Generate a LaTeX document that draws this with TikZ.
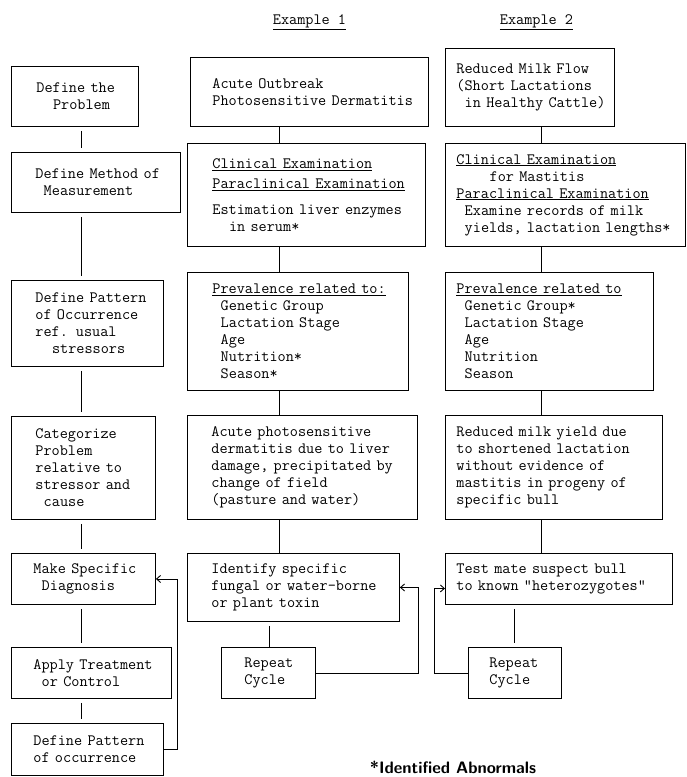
\documentclass[tikz,border=0pt]{standalone}
\usetikzlibrary{positioning,calc,arrows.meta}

\newcommand\boxfont{\ttfamily\fontsize{15.8}{17}\selectfont}
\newcommand\ind[1]{\hspace*{#1\dimexpr .525em\relax}}

\begin{document}
\begin{tikzpicture}[x=1pt,y=-1pt,
        stepbox/.style={draw, line width=0.9pt, anchor=north west, font=\boxfont,
            align=left, inner xsep=2pt, inner ysep=0pt},
        boxsize/.style n args={4}{minimum width=#1pt, text width=#2pt,
            minimum height=#3pt, execute at begin node={\leftskip=#4pt\relax}},
        link/.style={line width=0.9pt},
        gaplink/.style={link, shorten <=4pt, shorten >=4pt},
        backarrow/.style={link, -{Straight Barb[length=4pt,width=7pt]}}]

    \useasboundingbox (0,0) rectangle (686,777);

    % general procedure
    \node [stepbox, boxsize={127}{123}{60}{23}] (define) at (11,66) {Define the\\\ind{2}Problem};
    \node [stepbox, boxsize={169}{165}{60}{22}] (method) at (11,152) {Define Method of\\\ind{1}Measurement};
    \node [stepbox, boxsize={152}{148}{86}{22}] (pattern) at (11,280) {Define Pattern\\of Occurrence\\ref. usual\\\ind{2}stressors};
    \node [stepbox, boxsize={144}{140}{103}{22}] (categorize) at (11,416) {Categorize\\Problem\\relative to\\stressor and\\\ind{1}cause};
    \node [stepbox, boxsize={144}{140}{51}{20}] (diagnosis) at (11,553) {Make Specific\\\ind{1}Diagnosis};
    \node [stepbox, boxsize={160}{156}{51}{20}] (treatment) at (11,647) {Apply Treatment\\\ind{1}or Control};
    \node [stepbox, boxsize={152}{148}{52}{20}] (recheck) at (11,723) {Define Pattern\\of occurrence};

    % example 1
    \node [font=\boxfont] (ex1) at (309.5,22) {\underline{Example 1}};
    \node [stepbox, boxsize={238}{234}{69}{20}] (outbreak) at (190,57) {Acute Outbreak\\Photosensitive Dermatitis};
    \node [stepbox, boxsize={238}{234}{103}{23}] (exam1) at (187,143) {\underline{Clinical Examination}\\[3pt]\underline{Paraclinical Examination}\\[9pt]Estimation liver enzymes\\\ind{2}in serum*};
    \node [stepbox, boxsize={221}{217}{118}{23}] (prev1) at (187,272) {\underline{Prevalence related to:}\\\ind{1}Genetic Group\\\ind{1}Lactation Stage\\\ind{1}Age\\\ind{1}Nutrition*\\\ind{1}Season*};
    \node [stepbox, boxsize={230}{226}{104}{22}] (cause1) at (187,415) {Acute photosensitive\\dermatitis due to liver\\damage, precipitated by\\change of field\\(pasture and water)};
    \node [stepbox, boxsize={212}{208}{68}{22}] (toxin) at (187,553) {Identify specific\\fungal or water-borne\\or plant toxin};
    \node [stepbox, boxsize={94}{90}{51}{21}] (repeat1) at (221,647) {Repeat\\Cycle};

    % example 2
    \node [font=\boxfont] (ex2) at (536.5,22) {\underline{Example 2}};
    \node [stepbox, boxsize={169}{165}{78}{9}] (milkflow) at (445,48) {Reduced Milk Flow\\(Short Lactations\\\ind{1}in Healthy Cattle)};
    \node [stepbox, boxsize={240}{236}{103}{9}] (exam2) at (445,143) {\underline{Clinical Examination}\\\ind{4}for Mastitis\\\underline{Paraclinical Examination}\\\ind{1}Examine records of milk\\\ind{1}yields, lactation lengths*};
    \node [stepbox, boxsize={208}{204}{118}{9}] (prev2) at (445,272) {\underline{Prevalence related to}\\\ind{1}Genetic Group*\\\ind{1}Lactation Stage\\\ind{1}Age\\\ind{1}Nutrition\\\ind{1}Season};
    \node [stepbox, boxsize={217}{213}{104}{9}] (cause2) at (445,415) {Reduced milk yield due\\to shortened lactation\\without evidence of\\mastitis in progeny of\\specific bull};
    \node [stepbox, boxsize={227}{223}{51}{9}] (testmate) at (445,553) {Test mate suspect bull\\to known "heterozygotes"};
    \node [stepbox, boxsize={93}{89}{51}{19}] (repeat2) at (468,647) {Repeat\\Cycle};

    \node [font=\sffamily\bfseries\fontsize{16.6}{18}\selectfont] (note) at (453,767) {*Identified Abnormals};

    % connectors
    \coordinate (lspine) at (81,0);
    \coordinate (aspine) at (279,0);
    \coordinate (aspur) at (269,0);
    \coordinate (bspine) at (541,0);
    \coordinate (bspur) at (514,0);

    \draw [gaplink] (define.south -| lspine) -- (method.north -| lspine);
    \draw [gaplink] (method.south -| lspine) -- (pattern.north -| lspine);
    \draw [gaplink] (pattern.south -| lspine) -- (categorize.north -| lspine);
    \draw [gaplink] (categorize.south -| lspine) -- (diagnosis.north -| lspine);
    \draw [gaplink] (diagnosis.south -| lspine) -- (treatment.north -| lspine);
    \draw [gaplink] (treatment.south -| lspine) -- (recheck.north -| lspine);

    \draw [link] (outbreak.south -| aspine) -- (exam1.north -| aspine);
    \draw [link] (exam1.south -| aspine) -- (prev1.north -| aspine);
    \draw [link] (prev1.south -| aspine) -- (cause1.north -| aspine);
    \draw [link] (cause1.south -| aspine) -- (toxin.north -| aspine);
    \draw [link, shorten <=4pt] (toxin.south -| aspur) -- (repeat1.north -| aspur);

    \draw [link] (milkflow.south -| bspine) -- (exam2.north -| bspine);
    \draw [link] (exam2.south -| bspine) -- (prev2.north -| bspine);
    \draw [link] (prev2.south -| bspine) -- (cause2.north -| bspine);
    \draw [link] (cause2.south -| bspine) -- (testmate.north -| bspine);
    \draw [gaplink] (testmate.south -| bspur) -- (repeat2.north -| bspur);

    % feedback
    \draw [backarrow] (recheck.east) -| ([xshift=22pt]diagnosis.east) -- (diagnosis.east);
    \draw [backarrow] (repeat1.east) -| ([xshift=19pt]toxin.east) -- (toxin.east);
    \draw [backarrow] (repeat2.west) -| ($(testmate.west)+(-11,9.5)$) -- ($(testmate.west)+(0,9.5)$);

\end{tikzpicture}
\end{document}
